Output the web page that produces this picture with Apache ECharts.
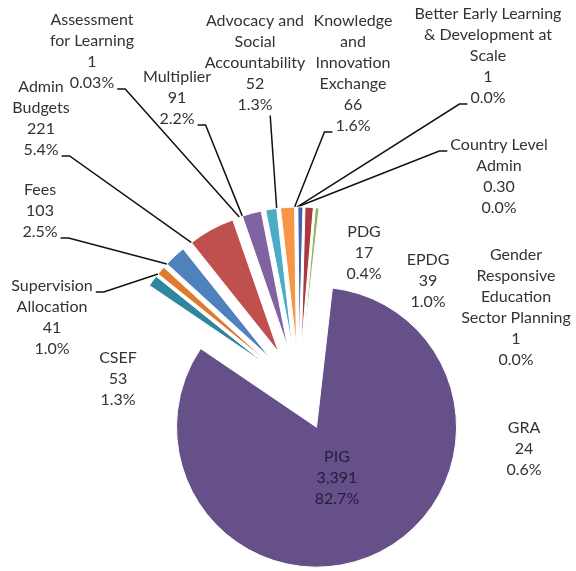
<!DOCTYPE html>
<html>
<head>
<meta charset="utf-8">
<script src="https://cdn.jsdelivr.net/npm/echarts@6/dist/echarts.min.js"></script>
<style>
  html, body { margin: 0; padding: 0; background: #fff; }
  #chart { width: 576px; height: 571px; }
</style>
</head>
<body>
<div id="chart"></div>
<script>
// slices in clockwise order, starting just right of 12 o'clock
const names = [
  'PIG', 'CSEF', 'Supervision\nAllocation', 'Fees', 'Admin\nBudgets',
  'Assessment\nfor Learning', 'Multiplier', 'Advocacy and\nSocial\nAccountability',
  'Knowledge\nand\nInnovation\nExchange', 'Better Early Learning\n& Development at\nScale',
  'Country Level\nAdmin', 'GRA', 'EPDG', 'Gender\nResponsive\nEducation\nSector Planning', 'PDG'
]
const values = [3391, 53, 41, 103, 221, 1, 91, 52, 66, 1, 0.30, 24, 39, 1, 17]
const shares = ['82.7%', '1.3%', '1.0%', '2.5%', '5.4%', '0.03%', '2.2%', '1.3%', '1.6%', '0.0%', '0.0%', '0.6%', '1.0%', '0.0%', '0.4%']
const colors = [
  '#66508a', '#31859c', '#e07a2e', '#4f81bd', '#c0504d', '#9bbb59', '#8064a2', '#4bacc6',
  '#f79646', '#2c4d75', '#772c2a', '#3e64a8', '#aa3a3c', '#9983b5', '#91b05a'
]

// label placement: centre x, centre y of first text row
const labelSpots = [
  [337, 457], [118, 358], [52, 286], [40, 190], [41, 87],
  [92, 20], [177, 77], [255, 21], [353, 21], [488, 14],
  [499, 145], [524, 428], [428, 260], [516, 255], [364, 232]
]
// where the leader line leaves the label: [side, row], null = no line
const hooks = [
  null, null, ['r', 0], ['r', 2], ['r', 3],
  ['r', 3], ['r', 2], ['b', 4], ['l', 5], ['l', 4],
  ['l', 0], null, null, null, null
]

const cx = 299, cy = 389, radius = 140, explode = 42, startDeg = 6.5
const fontSize = 16, lineH = 21, fontFamily = 'Lato'

const ctx = document.createElement('canvas').getContext('2d')
ctx.font = fontSize + 'px ' + fontFamily

function valueText(v) {
  return v < 1 ? v.toFixed(2) : v.toLocaleString('en-US')
}
function labelRows(i) {
  return (names[i] + '\n' + valueText(values[i]) + '\n' + shares[i]).split('\n')
}

// slice spans in degrees, clockwise from 12 o'clock
const total = values.reduce((a, b) => a + b, 0)
const spans = []
let acc = startDeg
values.forEach(v => {
  const a = v / total * 360
  spans.push([acc, acc + a])
  acc += a
})

function polar(x, y, r, deg) {
  const t = deg * Math.PI / 180
  return [x + r * Math.sin(t), y - r * Math.cos(t)]
}

// exploded slice: its own centre pushed out along the bisector
function sliceCenter(i) {
  return polar(cx, cy, explode, (spans[i][0] + spans[i][1]) / 2)
}

function arcPoint(i, p) {
  const [a0, a1] = spans[i]
  const mid = (a0 + a1) / 2
  const apex = sliceCenter(i)
  let psi = Math.atan2(p[0] - apex[0], -(p[1] - apex[1])) * 180 / Math.PI
  psi = mid + (((psi - mid) % 360 + 540) % 360 - 180)
  psi = Math.min(a1, Math.max(a0, psi))
  return polar(apex[0], apex[1], radius, psi)
}

function leaderPoints(i) {
  const [side, row] = hooks[i]
  const rows = labelRows(i)
  const [lx, ly] = labelSpots[i]
  const w = ctx.measureText(rows[row]).width
  const rowY = ly + row * lineH
  if (side === 'b') {
    const base = [lx, ly + (rows.length - 1) * lineH + lineH / 2]
    const t = arcPoint(i, base)
    const ax = Math.min(lx + w / 2, Math.max(lx - w / 2, t[0]))
    const anchor = [ax, base[1]]
    return [arcPoint(i, anchor), anchor]
  }
  const dir = side === 'r' ? 1 : -1
  const anchor = [lx + dir * (w / 2 + 3), rowY + 6]
  const knee = [anchor[0] + dir * 8, anchor[1]]
  return [arcPoint(i, knee), knee, anchor]
}

const series = names.map((n, i) => ({
  type: 'pie',
  center: sliceCenter(i),
  radius: radius,
  startAngle: 90 - spans[i][0],
  avoidLabelOverlap: false,
  emphasis: { disabled: true },
  silent: true,
  label: {
    show: true,
    position: 'outside',
    formatter: () => labelRows(i).join('\n'),
    color: i === 0 ? '#241d38' : '#333',
    fontFamily: fontFamily,
    fontSize: fontSize,
    lineHeight: lineH,
    align: 'center',
    overflow: 'none'
  },
  labelLine: { show: !!hooks[i], lineStyle: { color: '#111', width: 1.5 } },
  labelLayout: p => {
    if (p.dataIndex !== 0) return {}
    const out = { x: labelSpots[i][0], y: labelSpots[i][1] - lineH / 2, align: 'center', verticalAlign: 'top' }
    if (hooks[i]) out.labelLinePoints = leaderPoints(i)
    return out
  },
  data: [
    { name: n, value: values[i], itemStyle: { color: colors[i], borderColor: '#fff', borderWidth: 1 } },
    {
      name: '', value: total - values[i],
      itemStyle: { color: 'rgba(0,0,0,0)', borderWidth: 0 },
      label: { show: false }, labelLine: { show: false }
    }
  ]
}))

const chart = echarts.init(document.getElementById('chart'))
chart.setOption({ animation: false, series: series })
</script>
</body>
</html>
